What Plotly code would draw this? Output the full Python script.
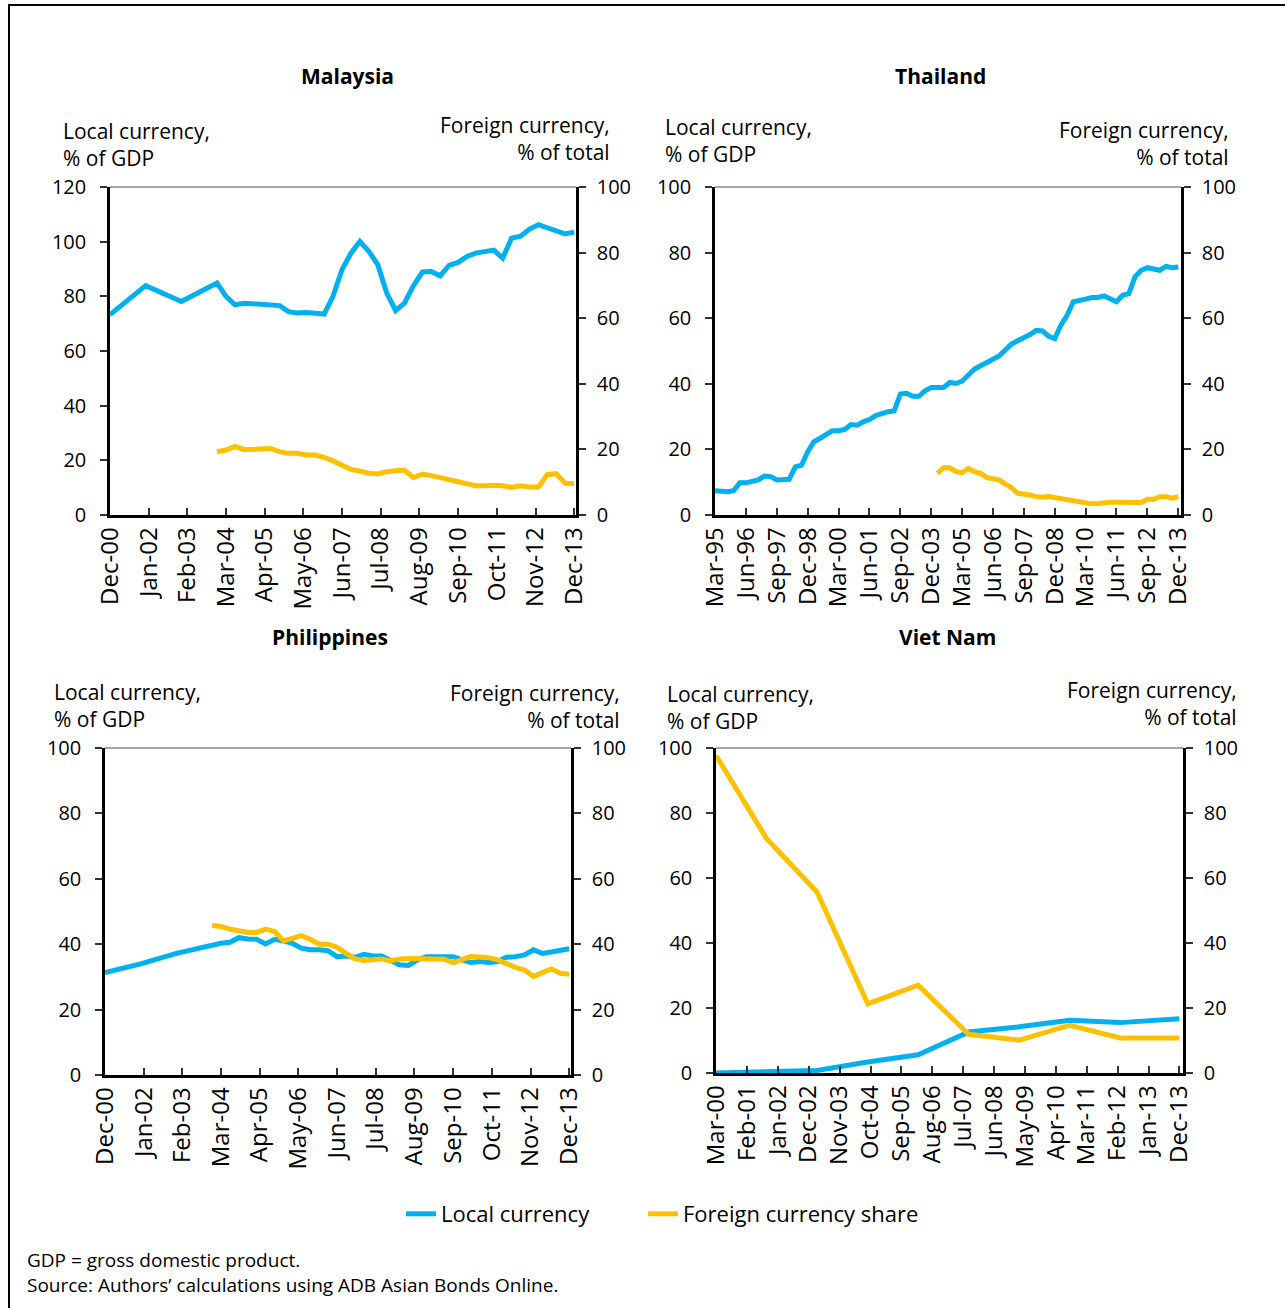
import plotly.graph_objects as go

W, H = 1285, 1308
BLUE = "#00B0F0"
YELLOW = "#FFC000"
FONT = "Open Sans"


def qdates(y0, m0, y1, m1):
    out = []
    y, m = y0, m0
    while (y, m) <= (y1, m1):
        out.append(f"{y}-{m:02d}-01")
        m += 3
        if m > 12:
            m -= 12
            y += 1
    return out


# ---------------- Malaysia ----------------
my_local_dates = ["2000-12-01", "2001-12-01", "2002-12-01"] + qdates(2003, 12, 2013, 12)
my_local = [73.3, 83.9, 78.1, 84.9,
            80.0, 76.9, 77.5, 77.3,
            76.9, 76.9, 76.6, 74.4,
            73.9, 74.1, 73.6, 73.5,
            80.0, 89.7, 95.8, 100.1,
            96.5, 91.6, 81.2, 74.8,
            77.5, 83.9, 88.9, 89.1,
            87.5, 91.3, 92.4, 94.6,
            95.8, 96.5, 96.9, 94.0,
            101.3, 102.0, 104.6, 106.2,
            105.0, 104.2, 102.8, 103.5]
my_foreign_dates = qdates(2003, 12, 2013, 12)
my_foreign = [19.3,
              19.8, 20.9, 20.0, 20.0,
              20.0, 20.3, 19.3, 18.8,
              18.8, 18.3, 18.3, 17.6,
              16.5, 15.0, 13.9, 13.4,
              12.7, 12.5, 13.2, 13.5,
              13.7, 11.4, 12.5, 12.0,
              11.4, 10.5, 10.0, 9.3,
              8.9, 8.9, 9.1, 8.9,
              8.4, 8.9, 8.5, 8.5,
              12.3, 12.6, 9.7, 9.6]
my_tickvals = ["2000-12-01", "2002-01-01", "2003-02-01", "2004-03-01", "2005-04-01",
               "2006-05-01", "2007-06-01", "2008-07-01", "2009-08-01", "2010-09-01",
               "2011-10-01", "2012-11-01", "2013-12-01"]
my_ticktext = ["Dec-00", "Jan-02", "Feb-03", "Mar-04", "Apr-05", "May-06", "Jun-07",
               "Jul-08", "Aug-09", "Sep-10", "Oct-11", "Nov-12", "Dec-13"]

# ---------------- Thailand ----------------
th_local_dates = qdates(1995, 3, 2013, 12)
th_local = [7.4, 7.1, 7.1, 7.4,
            9.8, 9.8, 10.2, 10.7,
            11.9, 11.7, 10.7, 10.7,
            10.9, 14.7, 15.2, 19.3,
            22.3, 23.4, 24.4, 25.7,
            25.7, 26.1, 27.6, 27.4,
            28.4, 29.1, 30.3, 31.0,
            31.5, 31.7, 36.9, 37.1,
            36.2, 36.2, 37.9, 38.9,
            38.9, 38.9, 40.4, 40.1,
            40.8, 42.6, 44.5, 45.5,
            46.5, 47.2, 48.5, 50.3,
            52.1, 53.1, 53.9, 55.0,
            56.3, 56.1, 54.5, 53.8,
            57.9, 60.9, 65.0, 65.3,
            65.8, 66.3, 66.3, 66.8,
            66.0, 65.0, 67.0, 67.5,
            72.6, 74.6, 75.4, 75.1,
            74.6, 75.8, 75.4, 75.6]
th_foreign_dates = qdates(2004, 3, 2013, 12)
th_foreign = [12.7, 14.4, 14.4, 13.2,
              12.9, 14.2, 13.2, 12.7,
              11.4, 11.0, 10.7, 9.4,
              8.4, 6.6, 6.4, 6.1,
              5.6, 5.4, 5.6, 5.3,
              4.9, 4.4, 4.1, 3.9,
              3.6, 3.4, 3.5, 3.8,
              3.9, 3.9, 3.8, 3.8,
              3.8, 3.8, 4.8, 4.8,
              5.6, 5.6, 5.1, 5.6]
th_tickvals = ["1995-03-01", "1996-06-01", "1997-09-01", "1998-12-01", "2000-03-01",
               "2001-06-01", "2002-09-01", "2003-12-01", "2005-03-01", "2006-06-01",
               "2007-09-01", "2008-12-01", "2010-03-01", "2011-06-01", "2012-09-01",
               "2013-12-01"]
th_ticktext = ["Mar-95", "Jun-96", "Sep-97", "Dec-98", "Mar-00", "Jun-01", "Sep-02",
               "Dec-03", "Mar-05", "Jun-06", "Sep-07", "Dec-08", "Mar-10", "Jun-11",
               "Sep-12", "Dec-13"]

# ---------------- Philippines ----------------
ph_local_dates = ["2000-12-01", "2001-12-01", "2002-12-01"] + qdates(2003, 12, 2013, 12)
ph_local = [31.3, 34.0, 37.2, 39.8,
            40.3, 40.6, 42.0, 41.6,
            41.5, 40.1, 41.5, 41.0,
            40.3, 38.8, 38.3, 38.3,
            38.0, 36.2, 36.4, 36.0,
            36.9, 36.4, 36.4, 35.0,
            33.7, 33.5, 35.2, 36.2,
            36.2, 36.0, 36.2, 35.2,
            34.4, 34.7, 34.4, 34.7,
            36.0, 36.2, 36.7, 38.3,
            37.2, 37.6, 38.3, 38.6]
ph_foreign_dates = qdates(2003, 12, 2013, 12)
ph_foreign = [45.7,
              45.4, 44.6, 44.1, 43.6,
              43.6, 44.6, 43.9, 41.0,
              41.8, 42.6, 41.5, 40.0,
              40.0, 39.1, 37.2, 35.5,
              35.0, 35.2, 35.5, 34.9,
              35.5, 35.6, 35.6, 35.7,
              35.5, 35.4, 34.4, 35.2,
              36.2, 36.1, 35.9, 35.2,
              33.9, 32.9, 32.1, 30.1,
              31.3, 32.4, 31.1, 30.8]

# ---------------- Viet Nam ----------------
vn_dates = ["2000-03-01", "2001-09-01", "2003-03-01", "2004-09-01", "2006-03-01",
            "2007-09-01", "2009-03-01", "2010-09-01", "2012-03-01", "2013-12-01"]
vn_local = [0.0, 0.4, 0.8, 3.4, 5.6, 12.6, 14.2, 16.2, 15.5, 16.7]
vn_foreign = [97.7, 72.1, 55.7, 21.3, 27.0, 11.9, 10.1, 14.7, 10.8, 10.8]
vn_tickvals = ["2000-03-01", "2001-02-01", "2002-01-01", "2002-12-01", "2003-11-01",
               "2004-10-01", "2005-09-01", "2006-08-01", "2007-07-01", "2008-06-01",
               "2009-05-01", "2010-04-01", "2011-03-01", "2012-02-01", "2013-01-01",
               "2013-12-01"]
vn_ticktext = ["Mar-00", "Feb-01", "Jan-02", "Dec-02", "Nov-03", "Oct-04", "Sep-05",
               "Aug-06", "Jul-07", "Jun-08", "May-09", "Apr-10", "Mar-11", "Feb-12",
               "Jan-13", "Dec-13"]

panels = [
    dict(title="Malaysia", box=(110, 576, 187, 515), lmax=120,
         ld=my_local_dates, lv=my_local, fd=my_foreign_dates, fv=my_foreign,
         xr=["2000-12-01", "2013-12-20"], tv=my_tickvals, tt=my_ticktext,
         tpos=(347, 76), lt=(61, 144), rt=(612, 138)),
    dict(title="Thailand", box=(715, 1181, 187, 515), lmax=100,
         ld=th_local_dates, lv=th_local, fd=th_foreign_dates, fv=th_foreign,
         xr=["1995-03-01", "2014-01-10"], tv=th_tickvals, tt=th_ticktext,
         tpos=(941, 76), lt=(663, 141), rt=(1231, 143)),
    dict(title="Philippines", box=(105, 571, 748, 1075), lmax=100,
         ld=ph_local_dates, lv=ph_local, fd=ph_foreign_dates, fv=ph_foreign,
         xr=["2000-12-01", "2013-12-20"], tv=my_tickvals, tt=my_ticktext,
         tpos=(330, 637), lt=(52, 705), rt=(622, 706)),
    dict(title="Viet Nam", box=(716, 1183, 748, 1073), lmax=100,
         ld=vn_dates, lv=vn_local, fd=vn_dates, fv=vn_foreign,
         xr=["2000-03-01", "2014-01-10"], tv=vn_tickvals, tt=vn_ticktext,
         tpos=(947, 637), lt=(665, 707), rt=(1239, 704)),
]


def px(x):
    return x / W


def py(y):
    return 1 - y / H


legend_common = dict(orientation="h", yanchor="middle", xanchor="left",
                     font=dict(size=22, family=FONT), bgcolor="rgba(0,0,0,0)")

fig = go.Figure()
layout = dict(
    width=W, height=H, autosize=False,
    margin=dict(l=0, r=0, t=0, b=0, autoexpand=False),
    paper_bgcolor="white", plot_bgcolor="white",
    font=dict(family=FONT, color="black"),
    showlegend=True,
    legend=dict(x=px(401), y=py(1214), **legend_common),
    legend2=dict(x=px(643), y=py(1214), **legend_common),
)
shapes = []
annotations = []

for i, p in enumerate(panels):
    n = i + 1
    xa = "x" if n == 1 else f"x{n}"
    yl = f"y{2 * n - 1}" if n > 1 else "y"
    yr = f"y{2 * n}"
    xkey = "xaxis" if n == 1 else f"xaxis{n}"
    ylkey = "yaxis" if n == 1 else f"yaxis{2 * n - 1}"
    yrkey = f"yaxis{2 * n}"
    x0, x1, ytop, ybot = p["box"]

    fig.add_trace(go.Scatter(x=p["ld"], y=p["lv"], xaxis=xa, yaxis=yl, mode="lines",
                             line=dict(color=BLUE, width=5), name="Local currency",
                             showlegend=(n == 1), legend="legend", hoverinfo="skip"))
    fig.add_trace(go.Scatter(x=p["fd"], y=p["fv"], xaxis=xa, yaxis=yr, mode="lines",
                             line=dict(color=YELLOW, width=5), name="Foreign currency share",
                             showlegend=(n == 1), legend="legend2", hoverinfo="skip"))

    layout[xkey] = dict(
        domain=[px(x0), px(x1)], anchor=yl, type="date", range=p["xr"],
        tickmode="array", tickvals=p["tv"], ticktext=p["tt"], tickangle=-90,
        ticks="inside", ticklen=7, tickwidth=1.5, tickcolor="#333",
        showline=True, linecolor="black", linewidth=2.5,
        showgrid=False, zeroline=False, fixedrange=True, automargin=False,
        tickfont=dict(size=24, family=FONT), ticklabelstandoff=0,
    )
    lticks = list(range(0, p["lmax"] + 1, 20))
    layout[ylkey] = dict(
        domain=[py(ybot), py(ytop)], anchor=xa, range=[0, p["lmax"]],
        tickmode="array", tickvals=lticks, ticktext=[str(v) for v in lticks],
        ticks="outside", ticklen=7, tickwidth=1.5, tickcolor="#333",
        showline=True, linecolor="black", linewidth=2.5,
        showgrid=False, zeroline=False, fixedrange=True, automargin=False,
        tickfont=dict(size=20, family=FONT), ticklabelstandoff=10,
    )
    rticks = list(range(0, 101, 20))
    layout[yrkey] = dict(
        overlaying=yl, side="right", anchor=xa, range=[0, 100],
        tickmode="array", tickvals=rticks, ticktext=[str(v) for v in rticks],
        ticks="outside", ticklen=7, tickwidth=1.5, tickcolor="#333",
        showline=True, linecolor="black", linewidth=2.5,
        showgrid=False, zeroline=False, fixedrange=True, automargin=False,
        tickfont=dict(size=20, family=FONT), ticklabelstandoff=7,
    )

    # light grey top border of plot area
    shapes.append(dict(type="line", xref="paper", yref="paper",
                       x0=px(x0), x1=px(x1), y0=py(ytop), y1=py(ytop),
                       line=dict(color="#A6A6A6", width=2)))

    annotations.append(dict(text=f"<b>{p['title']}</b>", xref="paper", yref="paper",
                            x=px(p["tpos"][0]), y=py(p["tpos"][1]), xanchor="center",
                            yanchor="middle", showarrow=False,
                            font=dict(size=21, family=FONT)))
    annotations.append(dict(text="Local currency,<br>% of GDP", xref="paper", yref="paper",
                            x=px(p["lt"][0]), y=py(p["lt"][1]), xanchor="left",
                            yanchor="middle", align="left", showarrow=False,
                            font=dict(size=21, family=FONT)))
    annotations.append(dict(text="Foreign currency,<br>% of total", xref="paper", yref="paper",
                            x=px(p["rt"][0]), y=py(p["rt"][1]), xanchor="right",
                            yanchor="middle", align="right", showarrow=False,
                            font=dict(size=21, family=FONT)))

annotations.append(dict(text="GDP = gross domestic product.<br>"
                             "Source: Authors\u2019 calculations using ADB Asian Bonds Online.",
                        xref="paper", yref="paper", x=px(25), y=py(1272),
                        xanchor="left", yanchor="middle", align="left", showarrow=False,
                        font=dict(size=19, family=FONT)))

# outer frame
shapes.append(dict(type="rect", xref="paper", yref="paper",
                   x0=px(9), x1=1.02, y0=-0.02, y1=py(5),
                   line=dict(color="black", width=2), fillcolor="rgba(0,0,0,0)"))

layout["shapes"] = shapes
layout["annotations"] = annotations
fig.update_layout(**layout)

fig.write_html("out.html", config={"displayModeBar": False},
               post_script="document.body.style.margin='0';document.body.style.overflow='hidden';")
